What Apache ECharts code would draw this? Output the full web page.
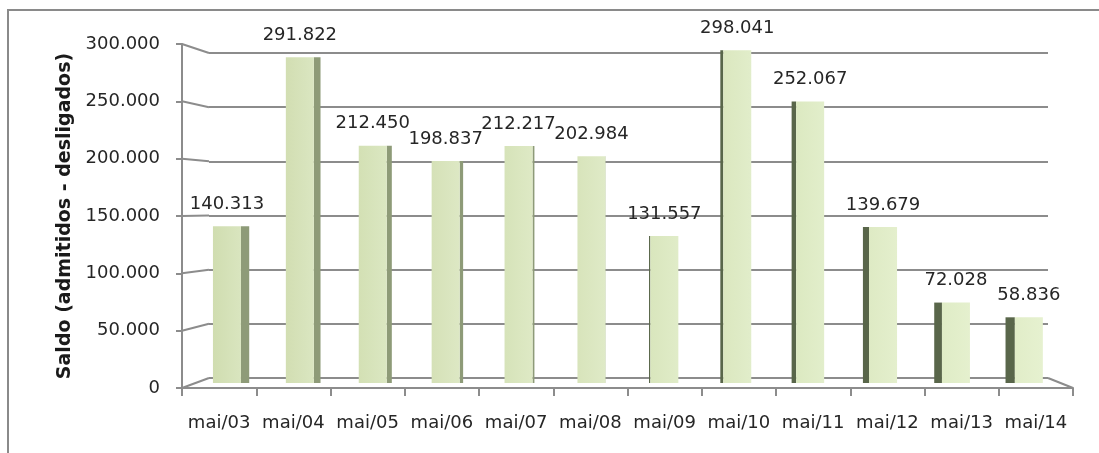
<!DOCTYPE html>
<html>
<head>
<meta charset="utf-8">
<script src="https://cdn.jsdelivr.net/npm/echarts@6/dist/echarts.min.js"></script>
<style>
  html, body { margin: 0; padding: 0; background: #fff; }
  #saldo { width: 1099px; height: 453px; }
</style>
</head>
<body>
<div id="saldo"></div>
<script>
// dados do gráfico
var categorias = ['mai/03', 'mai/04', 'mai/05', 'mai/06', 'mai/07', 'mai/08',
                  'mai/09', 'mai/10', 'mai/11', 'mai/12', 'mai/13', 'mai/14'];
var saldo = [140313, 291822, 212450, 198837, 212217, 202984,
             131557, 298041, 252067, 139679, 72028, 58836];
var yTicks = [0, 50000, 100000, 150000, 200000, 250000, 300000];
var yMax = 300000;

// layout das três "camadas" do falso 3D (frente, barras, parede do fundo)
var FRENTE = { left: 182, right: 26, top: 44, bottom: 65 };
var MEIO   = { left: 190.5, right: 33.7, top: 48, bottom: 70 };
var FUNDO  = { left: 209, right: 51, top: 53, bottom: 75 };
var FUGA = 5.17;       // índice onde a face lateral some
var FONTE = 'DejaVu Sans';
var CINZA = '#8c8c8c';

var chart = echarts.init(document.getElementById('saldo'));

// 140313 -> "140.313"
function fmt(v) {
  return String(v).replace(/\B(?=(\d{3})+(?!\d))/g, '.');
}

function mix(a, b, t) {
  var pa = [parseInt(a.substr(1, 2), 16), parseInt(a.substr(3, 2), 16), parseInt(a.substr(5, 2), 16)];
  var pb = [parseInt(b.substr(1, 2), 16), parseInt(b.substr(3, 2), 16), parseInt(b.substr(5, 2), 16)];
  return 'rgb(' + pa.map(function (c, k) { return Math.round(c + (pb[k] - c) * t); }).join(',') + ')';
}

// barra com face lateral
function desenhaBarra(params, api) {
  var i = api.value(0);
  var v = api.value(1);
  var topo = api.coord([i, v]);
  var base = api.coord([i, 0]);
  var meia = 14;
  var x0 = topo[0] - meia, x1 = topo[0] + meia;
  var sw = (FUGA - i) * 1.6;
  var lado;
  if (sw > 0) {
    lado = [[x1, topo[1]], [x1 + sw, topo[1]], [x1 + sw, base[1]], [x1, base[1]]];
  } else {
    lado = [[x0, topo[1]], [x0 + sw, topo[1]], [x0 + sw, base[1]], [x0, base[1]]];
  }
  var t = i / (categorias.length - 1);
  return {
    type: 'group',
    children: [
      {
        type: 'polygon',
        shape: { points: lado },
        style: { fill: sw > 0 ? '#8e9b78' : '#59664a' }
      },
      {
        type: 'rect',
        shape: { x: x0, y: topo[1], width: meia * 2, height: base[1] - topo[1] },
        style: {
          fill: new echarts.graphic.LinearGradient(0, 0, 1, 0, [
            { offset: 0, color: mix('#d0ddb0', '#e1edc8', t) },
            { offset: 1, color: mix('#d9e5bf', '#e6f1d0', t) }
          ])
        }
      }
    ]
  };
}

// linhas diagonais que ligam o eixo da frente à parede do fundo
function desenhaLigacao(params, api) {
  var v = api.value(0);
  var cs = params.coordSys;
  var W = api.getWidth(), H = api.getHeight();
  var fy = api.coord([0, v])[1];
  var bh = H - FUNDO.top - FUNDO.bottom;
  var by = FUNDO.top + bh * (1 - v / yMax);
  var linhas = [{
    type: 'line',
    shape: { x1: cs.x, y1: fy, x2: FUNDO.left, y2: by },
    style: { stroke: CINZA, lineWidth: 2 }
  }];
  if (v === 0) {
    linhas.push({
      type: 'line',
      shape: { x1: W - FUNDO.right, y1: by, x2: cs.x + cs.width, y2: fy },
      style: { stroke: CINZA, lineWidth: 2 }
    });
  }
  return { type: 'group', children: linhas };
}

var option = {
  backgroundColor: '#fff',
  animation: false,
  textStyle: { fontFamily: FONTE },
  graphic: [{
    type: 'rect',
    shape: { x: 8, y: 10, width: 1200, height: 600 },
    style: { fill: 'none', stroke: '#8a8a8a', lineWidth: 2 },
    z: -10
  }],
  grid: [
    FRENTE,
    MEIO,
    FUNDO
  ],
  xAxis: [
    {
      gridIndex: 0,
      type: 'category',
      data: categorias,
      boundaryGap: true,
      axisLine: { lineStyle: { color: CINZA, width: 2 } },
      axisTick: { show: true, length: 8, lineStyle: { color: CINZA, width: 2 } },
      axisLabel: { color: '#262626', fontSize: 18, fontFamily: FONTE, margin: 26, interval: 0, hideOverlap: false }
    },
    { gridIndex: 1, type: 'category', data: categorias, show: false },
    { gridIndex: 2, type: 'category', data: categorias, show: false }
  ],
  yAxis: [
    {
      gridIndex: 0,
      type: 'value',
      min: 0,
      max: yMax,
      interval: 50000,
      name: 'Saldo (admitidos - desligados)',
      nameLocation: 'middle',
      nameGap: 103,
      nameTextStyle: { color: '#1a1a1a', fontSize: 19, fontWeight: 'bold', fontFamily: FONTE },
      axisLine: { show: true, lineStyle: { color: CINZA, width: 2 } },
      axisTick: { show: true, length: 6, lineStyle: { color: CINZA, width: 2 } },
      axisLabel: { color: '#262626', fontSize: 18, fontFamily: FONTE, margin: 22, formatter: fmt },
      splitLine: { show: false }
    },
    { gridIndex: 1, type: 'value', min: 0, max: yMax, show: false, splitLine: { show: false } },
    {
      gridIndex: 2,
      type: 'value',
      min: 0,
      max: yMax,
      interval: 50000,
      axisLine: { show: false },
      axisTick: { show: false },
      axisLabel: { show: false },
      splitLine: { show: true, lineStyle: { color: CINZA, width: 2 } }
    }
  ],
  series: [
    {
      // ligações eixo da frente -> fundo
      type: 'custom',
      xAxisIndex: 0,
      yAxisIndex: 0,
      data: yTicks.map(function (v) { return [v]; }),
      encode: { y: 0 },
      renderItem: desenhaLigacao,
      silent: true,
      z: 1
    },
    {
      type: 'custom',
      xAxisIndex: 1,
      yAxisIndex: 1,
      data: saldo.map(function (v, i) { return [i, v]; }),
      encode: { x: 0, y: 1 },
      renderItem: desenhaBarra,
      silent: true,
      z: 3
    },
    {
      // só os rótulos de valor
      type: 'bar',
      xAxisIndex: 1,
      yAxisIndex: 1,
      data: saldo,
      barWidth: 28,
      itemStyle: { color: 'rgba(0,0,0,0)' },
      label: {
        show: true,
        position: 'top',
        distance: 13,
        color: '#262626',
        fontSize: 18,
        fontFamily: FONTE,
        formatter: function (p) { return fmt(p.value); }
      },
      silent: true,
      z: 4
    }
  ]
};

chart.setOption(option);
</script>
</body>
</html>
